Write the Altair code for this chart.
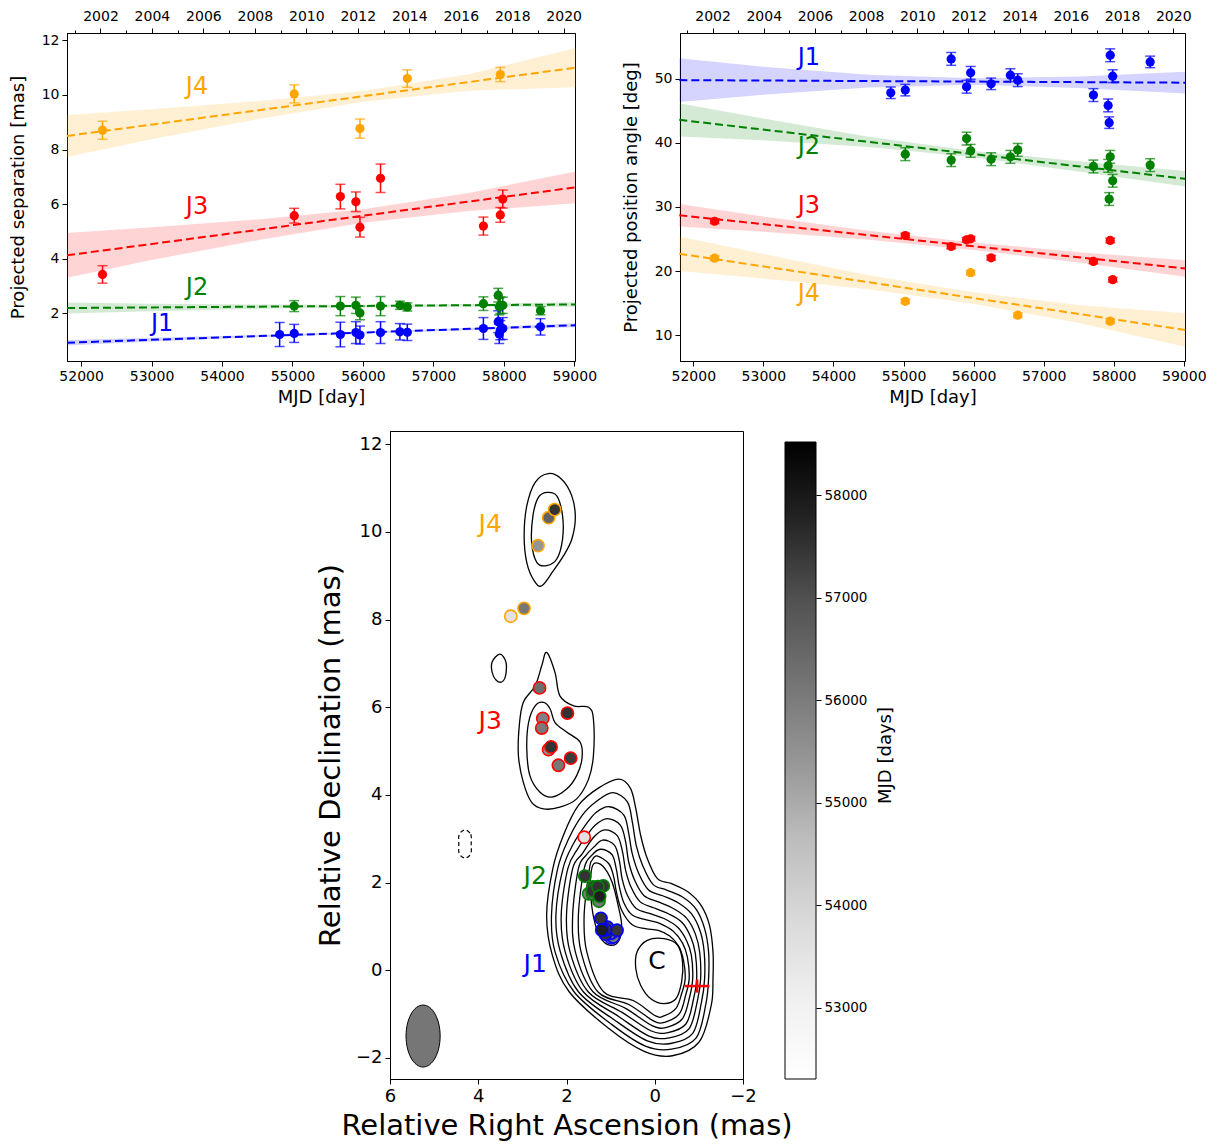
import altair as alt
import pandas as pd
import numpy as np

FONT = "DejaVu Sans"
COMP = ["J1", "J2", "J3", "J4"]
COMP_COLORS = ["#0000ff", "#008000", "#ff0000", "#ffa500"]

# ---------------- observations ----------------
j1_mjd = [54818, 55025, 55680, 55900, 55958, 56250, 56525, 56630, 57710, 57920, 57935, 57950, 57985, 58520]
j1_sep = [1.23, 1.27, 1.23, 1.30, 1.21, 1.30, 1.33, 1.31, 1.45, 1.70, 1.25, 1.39, 1.45, 1.51]
j1_sep_err = [0.44, 0.33, 0.45, 0.40, 0.33, 0.40, 0.30, 0.30, 0.40, 0.40, 0.35, 0.35, 0.40, 0.30]
j1_pa = [47.82, 48.24, 53.11, 48.76, 50.93, 49.22, 50.57, 49.79, 47.46, 45.85, 43.16, 53.68, 50.41, 52.64]
j1_pa_err = [0.9, 0.9, 1.0, 1.0, 1.0, 0.9, 1.0, 1.0, 1.0, 1.0, 0.9, 1.0, 1.0, 0.9]

j2_mjd = [55025, 55680, 55900, 55958, 56250, 56525, 56630, 57710, 57920, 57935, 57950, 57985, 58520]
j2_sep = [2.27, 2.27, 2.30, 2.02, 2.27, 2.30, 2.24, 2.36, 2.67, 2.25, 2.30, 2.30, 2.10]
j2_sep_err = [0.20, 0.35, 0.30, 0.25, 0.35, 0.15, 0.15, 0.25, 0.25, 0.30, 0.30, 0.30, 0.15]
j2_pa = [38.24, 37.31, 40.67, 38.76, 37.46, 37.82, 38.91, 36.32, 36.42, 31.24, 37.82, 34.09, 36.53]
j2_pa_err = [1.0] * 13

j3_mjd = [52304, 55025, 55680, 55900, 55958, 56250, 57710, 57950, 57985]
j3_sep = [3.43, 5.58, 6.28, 6.09, 5.16, 6.95, 5.20, 5.61, 6.19]
j3_sep_err = [0.32, 0.27, 0.45, 0.36, 0.36, 0.52, 0.33, 0.27, 0.33]
j3_pa = [27.77, 25.54, 23.83, 24.87, 25.03, 22.07, 21.50, 24.77, 18.65]
j3_pa_err = [0.35] * 9

j4_mjd = [52304, 55025, 55958, 56630, 57950]
j4_sep = [8.71, 10.04, 8.77, 10.60, 10.75]
j4_sep_err = [0.33, 0.33, 0.35, 0.32, 0.26]
j4_pa = [22.00, 15.28, 19.74, 13.11, 12.18]
j4_pa_err = [0.35] * 5

# ---------------- linear fits and confidence bands ----------------
fit_mjd = [51800, 59020]
sep_fit = {"J1": [0.93, 1.57], "J2": [2.20, 2.33], "J3": [4.13, 6.62], "J4": [8.50, 11.00]}
pa_fit = {"J1": [49.8, 49.4], "J2": [43.6, 34.4], "J3": [28.7, 20.4], "J4": [22.7, 10.8]}

band_mjd = [51800, 53000, 54500, 56000, 57500, 59020]
sep_band_hi = {"J1": [1.03, 1.11, 1.21, 1.33, 1.47, 1.64],
               "J2": [2.40, 2.36, 2.33, 2.32, 2.35, 2.41],
               "J3": [4.95, 5.16, 5.44, 5.82, 6.41, 7.20],
               "J4": [9.27, 9.48, 9.77, 10.15, 10.76, 11.72]}
sep_band_lo = {"J1": [0.83, 0.97, 1.13, 1.27, 1.39, 1.50],
               "J2": [2.00, 2.08, 2.17, 2.22, 2.25, 2.25],
               "J3": [3.31, 3.96, 4.68, 5.32, 5.75, 6.04],
               "J4": [7.73, 8.38, 9.11, 9.75, 10.16, 10.28]}
pa_band_hi = {"J1": [53.2, 51.9, 50.65, 50.07, 50.38, 51.1],
              "J2": [46.2, 43.8, 40.97, 38.75, 37.13, 35.6],
              "J3": [30.45, 28.53, 26.3, 24.47, 22.94, 21.7],
              "J4": [25.4, 22.64, 19.36, 16.68, 14.71, 13.4]}
pa_band_lo = {"J1": [46.4, 47.5, 48.65, 49.07, 48.58, 47.7],
              "J2": [41.0, 40.4, 39.37, 37.75, 35.53, 33.2],
              "J3": [26.95, 26.13, 24.9, 23.27, 21.34, 19.1],
              "J4": [20.0, 18.84, 17.16, 14.88, 11.91, 8.2]}

# component labels in the time panels
sep_label_mjd = [53150, 53645, 53645, 53645]
sep_label_val = [1.60, 2.95, 5.90, 10.30]
pa_label_mjd = [53650, 53650, 53650, 53650]
pa_label_val = [53.2, 39.3, 30.2, 16.4]

# year ticks (MJD of 1 January) for the top axes
year_mjd = [51910, 52275, 52640, 53005, 53371, 53736, 54101, 54466, 54832, 55197,
            55562, 55927, 56293, 56658, 57023, 57388, 57754, 58119, 58484, 58849]

# ---------------- map: contours (RA, Dec in mas) ----------------
L1 = [(0.81, 4.36), (0.55, 4.15), (0.43, 3.69), (0.32, 3.08), (0.17, 2.55), (-0.06, 2.09), (-0.37, 1.98),
      (-0.75, 1.79), (-1.05, 1.48), (-1.24, 1.03), (-1.32, 0.42), (-1.32, -0.19), (-1.28, -0.80),
      (-1.01, -1.63), (-0.40, -1.95), (0.24, -1.85), (1.04, -1.33), (1.94, -0.49), (2.32, 0.34),
      (2.45, 1.26), (2.31, 2.32), (2.07, 3.08), (1.73, 3.76), (1.27, 4.16)]
L2 = [(0.95, 4.05), (0.62, 3.84), (0.51, 3.39), (0.42, 2.85), (0.27, 2.38), (0.04, 1.96), (-0.27, 1.83),
      (-0.63, 1.67), (-0.94, 1.39), (-1.13, 0.95), (-1.22, 0.42), (-1.22, -0.19), (-1.16, -0.76),
      (-0.94, -1.54), (-0.38, -1.80), (0.21, -1.73), (0.97, -1.24), (1.83, -0.49), (2.26, 0.42),
      (2.34, 1.26), (2.20, 2.32), (1.95, 3.00), (1.64, 3.54), (1.31, 3.86)]
L3 = [(1.03, 3.73), (0.70, 3.54), (0.59, 3.12), (0.51, 2.66), (0.36, 2.20), (0.14, 1.83), (-0.18, 1.70),
      (-0.53, 1.54), (-0.83, 1.29), (-1.03, 0.89), (-1.12, 0.42), (-1.13, -0.19), (-1.06, -0.72),
      (-0.86, -1.44), (-0.36, -1.67), (0.17, -1.61), (0.89, -1.15), (1.73, -0.49), (2.14, 0.42),
      (2.24, 1.26), (2.08, 2.32), (1.84, 2.89), (1.57, 3.31), (1.33, 3.60)]
L4 = [(1.08, 3.46), (0.78, 3.31), (0.66, 2.93), (0.59, 2.47), (0.45, 2.04), (0.24, 1.70), (-0.08, 1.56),
      (-0.42, 1.41), (-0.72, 1.19), (-0.92, 0.83), (-1.02, 0.40), (-1.04, -0.19), (-0.97, -0.68),
      (-0.78, -1.33), (-0.33, -1.54), (0.13, -1.50), (0.81, -1.06), (1.62, -0.49), (2.03, 0.42),
      (2.12, 1.26), (1.97, 2.32), (1.74, 2.78), (1.54, 3.07), (1.35, 3.31)]
L5 = [(1.13, 3.20), (0.85, 3.07), (0.73, 2.70), (0.66, 2.28), (0.53, 1.88), (0.33, 1.56), (0.01, 1.42),
      (-0.31, 1.29), (-0.62, 1.09), (-0.82, 0.75), (-0.92, 0.38), (-0.95, -0.19), (-0.88, -0.65),
      (-0.71, -1.22), (-0.30, -1.42), (0.09, -1.38), (0.74, -0.96), (1.51, -0.49), (1.92, 0.42),
      (2.00, 1.26), (1.86, 2.32), (1.64, 2.66), (1.38, 3.04)]
L6 = [(1.18, 2.97), (0.91, 2.85), (0.80, 2.49), (0.74, 2.09), (0.62, 1.71), (0.42, 1.41), (0.10, 1.29),
      (-0.21, 1.18), (-0.52, 0.98), (-0.72, 0.68), (-0.83, 0.34), (-0.86, -0.19), (-0.79, -0.61),
      (-0.63, -1.10), (-0.27, -1.30), (0.05, -1.27), (0.66, -0.87), (1.40, -0.49), (1.80, 0.42),
      (1.86, 1.26), (1.73, 2.32), (1.56, 2.62), (1.38, 2.81)]
L7 = [(1.23, 2.76), (0.97, 2.64), (0.87, 2.30), (0.81, 1.94), (0.70, 1.54), (0.51, 1.26), (0.19, 1.15),
      (-0.11, 1.07), (-0.42, 0.89), (-0.63, 0.62), (-0.74, 0.30), (-0.78, -0.19), (-0.70, -0.57),
      (-0.56, -0.99), (-0.24, -1.18), (0.02, -1.16), (0.59, -0.78), (1.29, -0.49), (1.67, 0.42),
      (1.73, 1.26), (1.60, 2.32), (1.44, 2.61)]
L8 = [(1.31, 2.61), (1.04, 2.43), (0.93, 2.13), (0.87, 1.79), (0.75, 1.37), (0.51, 1.04), (0.21, 0.95),
      (-0.08, 0.91), (-0.34, 0.78), (-0.54, 0.55), (-0.65, 0.23), (-0.69, -0.19), (-0.61, -0.53),
      (-0.48, -0.87), (-0.21, -1.04), (-0.02, -1.04), (0.49, -0.69), (1.16, -0.49), (1.54, 0.42),
      (1.60, 1.26), (1.48, 2.32), (1.42, 2.51)]
JLOOP = [(1.38, 2.43), (1.18, 2.38), (0.97, 2.02), (0.83, 1.48), (0.75, 1.03), (0.81, 0.68), (1.00, 0.57),
         (1.23, 0.74), (1.38, 1.18), (1.45, 1.71), (1.45, 2.17)]
CLOOP = [(0.40, 0.42), (0.17, 0.68), (-0.21, 0.72), (-0.52, 0.57), (-0.63, 0.19), (-0.61, -0.26),
         (-0.48, -0.65), (-0.21, -0.76), (0.09, -0.65), (0.32, -0.34), (0.43, 0.04)]
J3_OUT = [(2.45, 7.25), (2.26, 6.79), (2.15, 6.26), (1.84, 6.03), (1.50, 6.00), (1.39, 5.73), (1.39, 4.90),
          (1.50, 4.36), (1.77, 3.91), (2.15, 3.72), (2.52, 3.68), (2.79, 3.83), (2.98, 4.29), (3.09, 4.90),
          (3.07, 5.58), (2.98, 6.11), (2.71, 6.49), (2.56, 6.95)]
J3_IN = [(2.52, 6.11), (2.37, 5.96), (2.26, 5.65), (1.99, 5.43), (1.69, 5.20), (1.65, 4.82), (1.77, 4.44),
         (1.99, 4.14), (2.33, 3.95), (2.60, 4.06), (2.83, 4.44), (2.90, 5.05), (2.86, 5.65), (2.71, 6.03)]
J4_OUT = [(2.41, 11.33), (2.11, 11.20), (1.88, 10.82), (1.80, 10.33), (1.88, 9.83), (2.07, 9.45), (2.30, 9.11),
          (2.56, 8.77), (2.73, 8.88), (2.90, 9.30), (2.96, 9.91), (2.90, 10.59), (2.71, 11.13)]
J4_IN = [(2.45, 10.90), (2.22, 10.82), (2.09, 10.37), (2.09, 9.83), (2.22, 9.38), (2.45, 9.23), (2.67, 9.30),
         (2.79, 9.76), (2.76, 10.37), (2.64, 10.78)]
ISLAND = [(3.51, 7.21), (3.37, 7.02), (3.39, 6.68), (3.52, 6.57), (3.66, 6.72), (3.69, 7.02)]
NEG_CONTOUR = [(4.30, 3.20), (4.17, 3.10), (4.16, 2.88), (4.17, 2.66), (4.30, 2.56), (4.43, 2.66),
               (4.44, 2.88), (4.43, 3.10)]

map_label_text = ["J4", "J3", "J2", "J1"]
map_label_ra = [3.73, 3.73, 2.71, 2.71]
map_label_dec = [10.18, 5.68, 2.15, 0.14]
core_label_ra, core_label_dec = [-0.05], [0.21]

beam_ra, beam_dec = [5.25], [-1.50]
core_ra, core_dec = [-0.96], [-0.36]
core_ra_err, core_dec_err = [0.28], [0.15]

# ---------------- build tables ----------------
rows = []
for name, mjd, sep, se, pa, pe in [
    ("J1", j1_mjd, j1_sep, j1_sep_err, j1_pa, j1_pa_err),
    ("J2", j2_mjd, j2_sep, j2_sep_err, j2_pa, j2_pa_err),
    ("J3", j3_mjd, j3_sep, j3_sep_err, j3_pa, j3_pa_err),
    ("J4", j4_mjd, j4_sep, j4_sep_err, j4_pa, j4_pa_err),
]:
    for i in range(len(mjd)):
        rows.append(dict(comp=name, mjd=mjd[i], sep=sep[i], sep_err=se[i], pa=pa[i], pa_err=pe[i]))
obs = pd.DataFrame(rows)
obs["sep_lo"] = obs.sep - obs.sep_err
obs["sep_hi"] = obs.sep + obs.sep_err
obs["pa_lo"] = obs.pa - obs.pa_err
obs["pa_hi"] = obs.pa + obs.pa_err
obs["ra"] = obs.sep * np.sin(np.radians(obs.pa))
obs["dec"] = obs.sep * np.cos(np.radians(obs.pa))

MJD_MIN, MJD_MAX = float(obs.mjd.min()), float(obs.mjd.max())


def fit_table(fits):
    return pd.DataFrame([dict(comp=c, mjd=fit_mjd[i], val=fits[c][i]) for c in COMP for i in range(2)])


def band_table(hi, lo):
    return pd.DataFrame([dict(comp=c, mjd=band_mjd[i], hi=hi[c][i], lo=lo[c][i])
                         for c in COMP for i in range(len(band_mjd))])


year_df = pd.DataFrame({"mjd": year_mjd})

YEAR_EXPR = "round((datum.value-51544.5)/365.25)+2000"
comp_color = alt.Color("comp:N", scale=alt.Scale(domain=COMP, range=COMP_COLORS), legend=None)


def time_panel(val, lo, hi, fits, bhi, blo, lab_mjd, lab_val, xdom, ydom, yvals, ytitle, w, h):
    xs = alt.Scale(domain=xdom, nice=False, zero=False)
    ys = alt.Scale(domain=ydom, nice=False, zero=False)
    common = dict(labelFont=FONT, titleFont=FONT, labelColor="black", titleColor="black",
                  domainColor="black", tickColor="black", grid=False, labelFlush=False,
                  labelOverlap=False, titleFontWeight="normal")
    xaxis = alt.Axis(values=list(range(52000, 59001, 1000)), format="d", title="MJD [day]",
                     labelFontSize=14, titleFontSize=18, tickSize=5, labelPadding=3, titlePadding=5, **common)
    yaxis = alt.Axis(values=yvals, format="d", title=ytitle, labelFontSize=14, titleFontSize=18,
                     tickSize=5, labelPadding=3, titlePadding=14, **common)
    color = comp_color

    def X(f="mjd"):
        return alt.X(f"{f}:Q", scale=xs, axis=xaxis)

    def Y(f):
        return alt.Y(f"{f}:Q", scale=ys, axis=yaxis)

    band = alt.Chart(band_table(bhi, blo)).mark_area(opacity=0.17).encode(
        x=X(), y=Y("lo"), y2="hi:Q", color=color)
    line = alt.Chart(fit_table(fits)).mark_line(strokeDash=[8, 4], strokeWidth=2).encode(
        x=X(), y=Y("val"), color=color)
    bars = alt.Chart(obs).mark_rule(strokeWidth=1.5).encode(x=X(), y=Y(lo), y2=f"{hi}:Q", color=color)
    cap_lo = alt.Chart(obs).mark_tick(orient="horizontal", size=10, thickness=1.5).encode(
        x=X(), y=Y(lo), color=color)
    cap_hi = alt.Chart(obs).mark_tick(orient="horizontal", size=10, thickness=1.5).encode(
        x=X(), y=Y(hi), color=color)
    pts = alt.Chart(obs).mark_circle(size=85, opacity=1).encode(x=X(), y=Y(val), color=color)
    lab_df = pd.DataFrame({"comp": COMP, "mjd": lab_mjd, "val": lab_val})
    txt = alt.Chart(lab_df).mark_text(fontSize=24, font=FONT, align="center", baseline="middle").encode(
        x=X(), y=Y("val"), text="comp:N", color=color)

    top_axis = alt.Axis(orient="top", values=year_mjd, title=None, labelFontSize=14,
                        labelExpr=f"({YEAR_EXPR}) % 2 == 0 ? toString({YEAR_EXPR}) : ''",
                        tickSize={"condition": {"test": f"({YEAR_EXPR}) % 2 == 0", "value": 5}, "value": 3},
                        labelPadding=5, **common)
    top = alt.Chart(year_df).mark_point(opacity=0).encode(x=alt.X("mjd:Q", scale=xs, axis=top_axis))
    inner = alt.layer(band, line, bars, cap_lo, cap_hi, pts, txt)
    return alt.layer(inner, top).resolve_scale(x="independent").properties(width=w, height=h)


sep_chart = time_panel("sep", "sep_lo", "sep_hi", sep_fit, sep_band_hi, sep_band_lo,
                       sep_label_mjd, sep_label_val, [51800, 59010], [0.26, 12.27],
                       [2, 4, 6, 8, 10, 12], "Projected separation [mas]", 508, 328)
pa_chart = time_panel("pa", "pa_lo", "pa_hi", pa_fit, pa_band_hi, pa_band_lo,
                      pa_label_mjd, pa_label_val, [51810, 59017], [5.96, 57.15],
                      [10, 20, 30, 40, 50], "Projected position angle [deg]", 505, 328)

# ---------------- map ----------------
crow = []
for cid, pts_ in [("L1", L1), ("L2", L2), ("L3", L3), ("L4", L4), ("L5", L5), ("L6", L6), ("L7", L7),
                  ("L8", L8), ("JL", JLOOP), ("CL", CLOOP), ("J3o", J3_OUT), ("J3i", J3_IN),
                  ("J4o", J4_OUT), ("J4i", J4_IN), ("IS", ISLAND)]:
    for k, (ra, dec) in enumerate(pts_):
        crow.append(dict(cid=cid, seq=k, ra=ra, dec=dec))
contour_df = pd.DataFrame(crow)
neg_df = pd.DataFrame([dict(seq=k, ra=r, dec=d) for k, (r, d) in enumerate(NEG_CONTOUR)])

map_common = dict(labelFont=FONT, titleFont=FONT, labelColor="black", titleColor="black",
                  domainColor="black", tickColor="black", grid=False, labelFlush=False,
                  labelOverlap=False, titleFontWeight="normal", tickSize=5, labelPadding=3)
mx = alt.Scale(domain=[-2, 6], reverse=True, nice=False, zero=False)
my = alt.Scale(domain=[-2.48, 12.3], nice=False, zero=False)
mxa = alt.Axis(values=[-2, 0, 2, 4, 6], title="Relative Right Ascension (mas)", labelFontSize=18,
               titleFontSize=29, titlePadding=6, **map_common)
mya = alt.Axis(values=[-2, 0, 2, 4, 6, 8, 10, 12], title="Relative Declination (mas)", labelFontSize=18,
               titleFontSize=29, titlePadding=10, **map_common)


def MX(f="ra"):
    return alt.X(f"{f}:Q", scale=mx, axis=mxa)


def MY(f="dec"):
    return alt.Y(f"{f}:Q", scale=my, axis=mya)


contours = alt.Chart(contour_df).mark_line(interpolate="cardinal-closed", color="black", strokeWidth=1.3).encode(
    x=MX(), y=MY(), detail="cid:N", order="seq:Q")
neg = alt.Chart(neg_df).mark_line(interpolate="cardinal-closed", color="black", strokeWidth=1.2,
                                  strokeDash=[4, 3]).encode(x=MX(), y=MY(), order="seq:Q")
beam = alt.Chart(pd.DataFrame({"ra": beam_ra, "dec": beam_dec})).mark_point(
    shape="M0,-1 A0.55,1 0 1,1 0,1 A0.55,1 0 1,1 0,-1 Z", size=3844, filled=True,
    fill="#767676", stroke="black", strokeWidth=1, opacity=1).encode(x=MX(), y=MY())
map_obs = obs.sort_values("mjd")
spots = alt.Chart(map_obs).mark_point(shape="circle", size=150, filled=True, strokeWidth=1.6, opacity=1).encode(
    x=MX(), y=MY(),
    fill=alt.Fill("mjd:Q", scale=alt.Scale(scheme="greys", domain=[MJD_MIN, MJD_MAX]), legend=None),
    stroke=alt.Stroke("comp:N", scale=alt.Scale(domain=COMP, range=COMP_COLORS), legend=None),
    order=alt.Order("mjd:Q"))
core_df = pd.DataFrame({"ra": core_ra, "dec": core_dec,
                        "ra_lo": [core_ra[0] - core_ra_err[0]], "ra_hi": [core_ra[0] + core_ra_err[0]],
                        "dec_lo": [core_dec[0] - core_dec_err[0]], "dec_hi": [core_dec[0] + core_dec_err[0]]})
cross_h = alt.Chart(core_df).mark_rule(color="red", strokeWidth=2.5).encode(x=MX("ra_lo"), x2="ra_hi:Q", y=MY())
cross_v = alt.Chart(core_df).mark_rule(color="red", strokeWidth=2.5).encode(x=MX(), y=MY("dec_lo"), y2="dec_hi:Q")
lab_df = pd.DataFrame({"comp": map_label_text, "ra": map_label_ra, "dec": map_label_dec})
labels = alt.Chart(lab_df).mark_text(fontSize=25, font=FONT, align="center", baseline="middle").encode(
    x=MX(), y=MY(), text="comp:N", color=comp_color)
core_lab = alt.Chart(pd.DataFrame({"t": ["C"], "ra": core_label_ra, "dec": core_label_dec})).mark_text(
    fontSize=25, font=FONT, align="center", baseline="middle", color="black").encode(x=MX(), y=MY(), text="t:N")
map_chart = alt.layer(contours, neg, beam, cross_h, cross_v, spots, labels, core_lab).properties(
    width=353, height=648)

# ---------------- colorbar ----------------
GREYS = ["#ffffff", "#f0f0f0", "#d9d9d9", "#bdbdbd", "#969696", "#737373", "#525252", "#252525", "#000000"]
grad = alt.LinearGradient(gradient="linear", x1=0, x2=0, y1=1, y2=0,
                          stops=[alt.GradientStop(color=c, offset=i / 8) for i, c in enumerate(GREYS)])
cbar_df = pd.DataFrame({"lo": [MJD_MIN], "hi": [MJD_MAX]})
cbar = alt.Chart(cbar_df).mark_rect(fill=grad, stroke="black", strokeWidth=1).encode(
    x=alt.value(0), x2=alt.value(31),
    y=alt.Y("lo:Q", scale=alt.Scale(domain=[MJD_MIN, MJD_MIN + (MJD_MAX - MJD_MIN) * 648 / 637],
                                    nice=False, zero=False),
            axis=alt.Axis(orient="right", values=[53000, 54000, 55000, 56000, 57000, 58000], format="d",
                          title="MJD [days]", titleAngle=270, labelFontSize=13.5, titleFontSize=18,
                          titlePadding=28, domain=False, labelFont=FONT, titleFont=FONT,
                          labelColor="black", titleColor="black", tickColor="black", tickSize=5,
                          labelPadding=3, grid=False, titleFontWeight="normal", labelOverlap=False)),
    y2="hi:Q").properties(width=31, height=648, view=alt.ViewBackground(strokeOpacity=0))

spacer = alt.Chart(pd.DataFrame({"a": [0]})).mark_point(opacity=0).encode(
    x=alt.value(0), y=alt.value(0)).properties(width=281, height=10, view=alt.ViewBackground(strokeOpacity=0))

top_row = alt.hconcat(sep_chart, pa_chart, spacing=105, bounds="flush")
bottom_row = alt.hconcat(spacer, map_chart, cbar, spacing=42, bounds="flush")
chart = alt.vconcat(top_row, bottom_row, spacing=21).properties(padding=0).configure(font=FONT).configure_view(
    stroke="black", strokeWidth=1)

chart.save("out.html", embed_options={"renderer": "svg", "actions": False})
